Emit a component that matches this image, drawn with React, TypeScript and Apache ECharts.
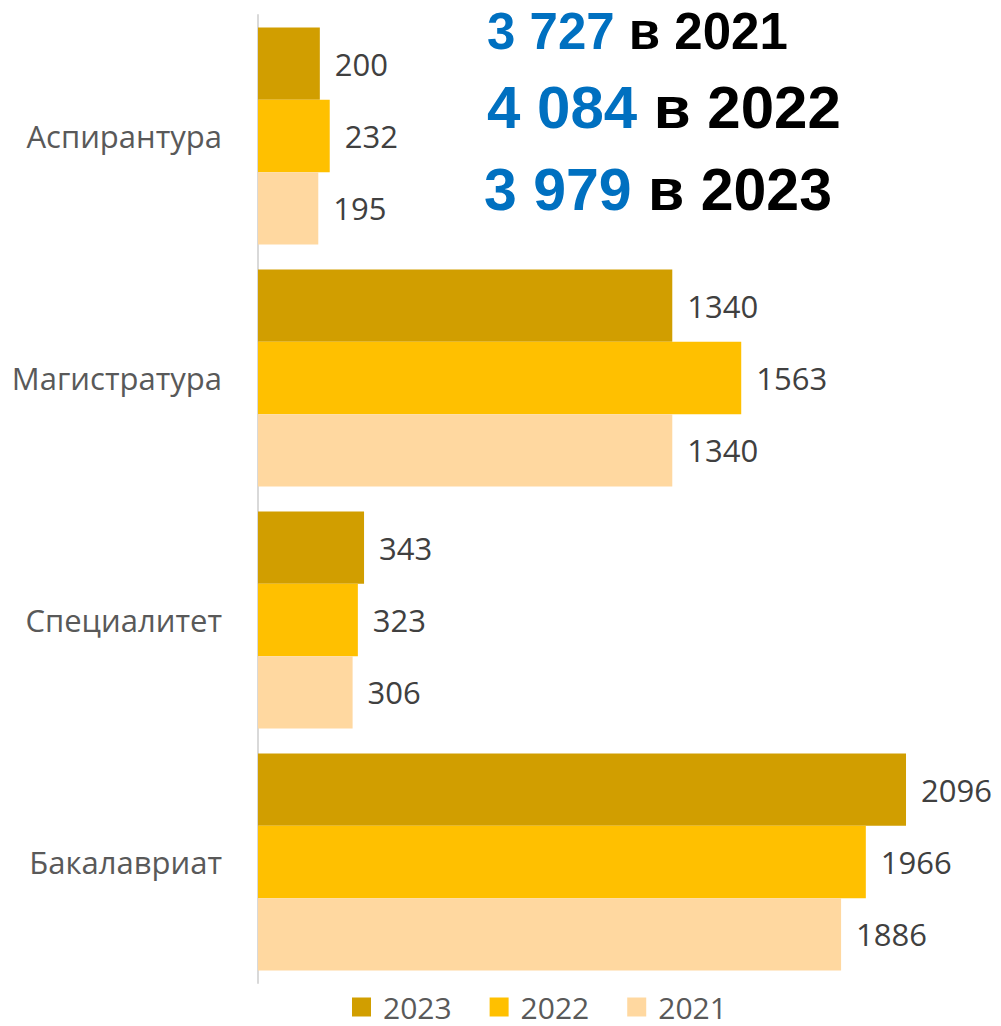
import React, { useEffect, useRef } from "react";
import * as echarts from "echarts";

const categories = ["Аспирантура", "Магистратура", "Специалитет", "Бакалавриат"];
const seriesNames = ["2023", "2022", "2021"];
const values2023 = [200, 1340, 343, 2096];
const values2022 = [232, 1563, 323, 1966];
const values2021 = [195, 1340, 306, 1886];
const colors = ["#D19E00", "#FFC000", "#FFD8A0"];
const totals = [
  { value: "3 727", year: "в 2021" },
  { value: "4 084", year: "в 2022" },
  { value: "3 979", year: "в 2023" },
];

export default function App() {
  const ref = useRef<HTMLDivElement>(null);
  useEffect(() => {
    if (!ref.current) return;
    const chart = echarts.init(ref.current, null, { renderer: "svg" });
    const data = [values2023, values2022, values2021];
    const titleLayout = [
      { x: 487, y: 31, size: 51 },
      { x: 487, y: 107, size: 60 },
      { x: 484, y: 190, size: 59 },
    ];
    chart.setOption({
      animation: false,
      grid: { left: 258, right: 1, top: 15, bottom: 43, containLabel: false },
      legend: {
        data: seriesNames,
        left: 352,
        top: 992,
        padding: 0,
        icon: "rect",
        itemWidth: 19,
        itemHeight: 19,
        itemGap: 38,
        textStyle: {
          fontFamily: "Open Sans",
          fontSize: 30,
          color: "#595959",
          padding: [0, 0, 0, 7],
        },
      },
      xAxis: {
        type: "value",
        min: 0,
        max: 2400,
        show: false,
        splitLine: { show: false },
      },
      yAxis: {
        type: "category",
        inverse: true,
        data: categories,
        axisLine: { show: true, lineStyle: { color: "#D9D9D9", width: 2 } },
        axisTick: { show: false },
        axisLabel: {
          margin: 36,
          fontFamily: "Open Sans",
          fontSize: 31,
          color: "#595959",
        },
      },
      series: seriesNames.map((name, i) => ({
        name,
        type: "bar",
        data: data[i],
        barGap: "0%",
        barCategoryGap: "10.3%",
        itemStyle: { color: colors[i] },
        label: {
          show: true,
          position: "right",
          distance: 15,
          fontFamily: "Open Sans",
          fontSize: 31,
          color: "#404040",
        },
      })),
      graphic: totals.map((t, i) => ({
        type: "text",
        x: titleLayout[i].x,
        y: titleLayout[i].y,
        style: {
          text: `{b|${t.value}} {k|${t.year}}`,
          fontFamily: "Liberation Sans",
          fontWeight: "bold",
          fontSize: titleLayout[i].size,
          verticalAlign: "middle",
          rich: {
            b: {
              fontFamily: "Liberation Sans",
              fontWeight: "bold",
              fontSize: titleLayout[i].size,
              fill: "#0070C0",
              color: "#0070C0",
            },
            k: {
              fontFamily: "Liberation Sans",
              fontWeight: "bold",
              fontSize: titleLayout[i].size,
              fill: "#000000",
              color: "#000000",
            },
          },
        },
      })),
    });
    return () => chart.dispose();
  }, []);
  return (
    <div
      ref={ref}
      style={{ position: "absolute", left: 0, top: 0, width: 1001, height: 1026 }}
    />
  );
}
